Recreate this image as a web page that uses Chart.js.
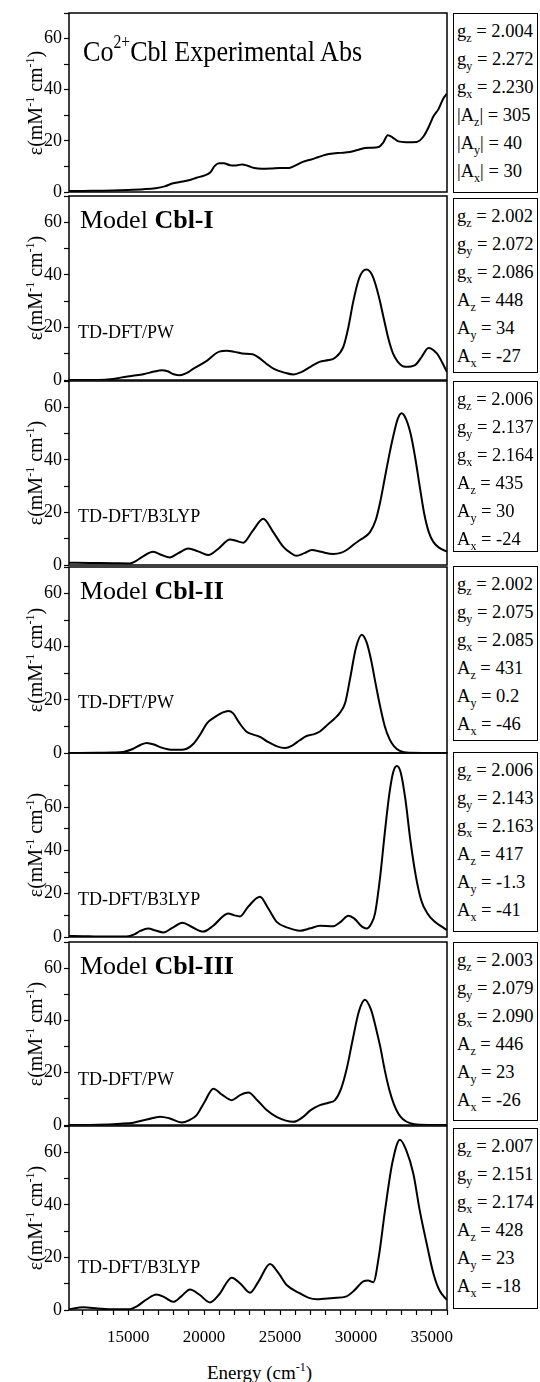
<!DOCTYPE html>
<html>
<head>
<meta charset="utf-8">
<script src="https://cdn.jsdelivr.net/npm/chart.js@4.4.1/dist/chart.umd.min.js"></script>
<style>
  body { margin: 0; background: #fff; }
  #wrap { position: relative; width: 540px; height: 1382px; overflow: hidden; font-family: "Liberation Serif", "Times New Roman", serif; color: #000; }
  canvas { position: absolute; left: 0; }
  .lbl { position: absolute; white-space: nowrap; line-height: 1; }
  .lbl sup { font-size: 60%; vertical-align: 0.7em; line-height: 0; }
  .title { font-size: 30px; transform: scaleX(0.87); transform-origin: 0 0; }
  .model { font-size: 26px; }
  .method { font-size: 18px; }
  .ytitle { position: absolute; width: 140px; height: 22px; line-height: 22px; text-align: center; font-size: 20px; transform: rotate(-90deg); white-space: nowrap; }
  .ytitle sup, .xtitle sup { font-size: 12px; vertical-align: 8px; line-height: 0; }
  .xtitle { position: absolute; font-size: 19px; white-space: nowrap; line-height: 1; }
  .box { position: absolute; left: 453px; width: 85px; border: 1.5px solid #000; box-sizing: border-box; font-size: 18.5px; line-height: 28px; padding: 3px 0 0 3px; white-space: nowrap; background: #fff; }
  .box sub { font-size: 12px; vertical-align: -5px; line-height: 0; }
</style>
</head>
<body>
<div id="wrap"></div>
<script>
// x axis
const xMin = 11100;
const xMax = 36000;
const xTickValues = [12000, 13000, 14000, 15000, 16000, 17000, 18000, 19000, 20000, 21000, 22000, 23000, 24000, 25000, 26000, 27000, 28000, 29000, 30000, 31000, 32000, 33000, 34000, 35000, 36000];
const xTickLabels = [15000, 20000, 25000, 30000, 35000];
const yTickLabels = [0, 20, 40, 60];

// Co2+Cbl experimental absorption
const expEnergy = [11100, 12000, 13000, 14000, 15000, 16000, 16800, 17400, 17900, 18400, 19000, 19500, 20000, 20400, 20700, 21000, 21300, 21700, 22100, 22500, 22900, 23300, 23800, 24400, 25000, 25600, 26000, 26500, 27000, 27500, 28000, 28500, 29000, 29600, 30100, 30600, 31000, 31500, 31800, 32100, 32400, 32800, 33300, 34000, 34450, 34800, 35100, 35450, 35760, 36000];
const expEps = [0.4, 0.4, 0.5, 0.6, 0.8, 1.1, 1.5, 2.2, 3.3, 3.9, 4.6, 5.6, 6.4, 7.6, 10.2, 11.2, 11.2, 10.5, 10.4, 10.8, 10.2, 9.4, 9.1, 9.2, 9.4, 9.4, 10.3, 11.8, 12.6, 13.6, 14.6, 15.1, 15.3, 15.6, 16.4, 17.2, 17.3, 17.6, 19.3, 22.2, 21.4, 19.8, 19.5, 19.6, 21.7, 25.5, 29.5, 32.5, 36.6, 38.5];

// Model Cbl-I
const cbl1PwEnergy = [11100, 13000, 14000, 14500, 15300, 16000, 16700, 17200, 17600, 18000, 18400, 18800, 19300, 20200, 21000, 21500, 22000, 22500, 23200, 23600, 24100, 24600, 25300, 25900, 26400, 27000, 27600, 28200, 28600, 29170, 29500, 29830, 30200, 30450, 30700, 31100, 31500, 31850, 32150, 32450, 32750, 33240, 33900, 34300, 34780, 35330, 35700, 36000];
const cbl1PwEps = [0, 0, 0.4, 0.9, 1.6, 2.2, 3.2, 3.7, 3.3, 2.2, 1.8, 2.5, 4.3, 7.4, 10.8, 11.1, 10.7, 10.1, 9.8, 8.5, 6.2, 4.2, 2.8, 2.1, 3.0, 5.0, 6.9, 7.6, 8.4, 12.6, 20.0, 30.0, 38.5, 41.3, 42.0, 39.5, 32.0, 23.0, 15.5, 10.0, 7.0, 5.0, 5.7, 8.5, 12.2, 10.1, 6.5, 3.0];
const cbl1B3Energy = [11100, 12500, 14000, 15100, 15500, 15900, 16650, 17200, 17750, 18300, 18960, 19600, 20280, 20900, 21710, 22100, 22580, 23200, 23900, 24500, 25220, 25700, 26100, 26600, 27090, 27700, 28510, 29000, 29390, 29900, 30270, 30930, 31300, 31600, 31900, 32200, 32500, 32750, 33010, 33300, 33600, 33900, 34200, 34500, 34800, 35100, 35500, 36000];
const cbl1B3Eps = [0.9, 0.8, 0.7, 0.6, 1.5, 3.0, 5.0, 3.8, 2.9, 4.5, 6.3, 5.2, 3.8, 6.0, 9.7, 9.2, 8.5, 13.0, 17.6, 13.0, 6.9, 4.6, 3.5, 4.5, 5.7, 5.0, 4.2, 4.6, 5.7, 8.0, 9.5, 12.5, 17.0, 24.0, 33.0, 42.0, 50.0, 55.5, 57.7, 55.5, 50.0, 41.0, 30.0, 19.5, 12.5, 8.8, 6.5, 5.1];

// Model Cbl-II
const cbl2PwEnergy = [11100, 13000, 14000, 14680, 15300, 15800, 16220, 16700, 17100, 17600, 18000, 18500, 18850, 19300, 19800, 20170, 20700, 21200, 21600, 21900, 22300, 22800, 23200, 23680, 24200, 24800, 25330, 25800, 26300, 26750, 27200, 27630, 28200, 28600, 28940, 29300, 29610, 30000, 30380, 30700, 31000, 31300, 31600, 31900, 32200, 32500, 32900, 33500, 36000];
const cbl2PwEps = [0, 0.1, 0.2, 0.4, 1.5, 3.0, 3.8, 3.2, 2.2, 1.4, 1.2, 1.2, 1.6, 3.5, 7.5, 11.1, 13.5, 15.2, 15.8, 15.0, 11.5, 8.0, 7.0, 6.1, 4.2, 2.5, 1.9, 2.8, 4.8, 6.4, 7.0, 8.1, 11.0, 13.0, 15.1, 19.0, 27.8, 39.5, 44.5, 41.7, 35.0, 26.0, 17.4, 10.1, 5.4, 2.6, 0.8, 0.1, 0];
const cbl2B3Energy = [11100, 12000, 13000, 14900, 15400, 15800, 16320, 16800, 17310, 17900, 18580, 19200, 19940, 20600, 21580, 22000, 22360, 22900, 23680, 24200, 24780, 25500, 26320, 27000, 27630, 28510, 29000, 29500, 29900, 30400, 30710, 31000, 31260, 31600, 31900, 32200, 32450, 32700, 32950, 33250, 33600, 33950, 34300, 34700, 35200, 35600, 36000];
const cbl2B3Eps = [0.5, 0.4, 0.2, 0.2, 1.2, 2.8, 3.9, 3.0, 2.1, 4.2, 6.6, 4.6, 2.5, 5.2, 10.9, 10.0, 9.5, 14.0, 18.6, 13.5, 7.0, 4.3, 2.9, 4.0, 5.2, 5.0, 7.0, 9.8, 8.5, 4.8, 3.9, 6.0, 10.9, 28.0, 48.0, 66.0, 76.0, 79.0, 76.0, 64.0, 44.0, 28.0, 17.0, 11.0, 7.0, 5.0, 3.2];

// Model Cbl-III
const cbl3PwEnergy = [11100, 13000, 14500, 15340, 16300, 17100, 17700, 18520, 19000, 19510, 20000, 20610, 21200, 21820, 22400, 22920, 23500, 24120, 24800, 25870, 26500, 27000, 27630, 28200, 28620, 29000, 29390, 29800, 30200, 30590, 31000, 31300, 31600, 31900, 32200, 32500, 32800, 33100, 33560, 34200, 36000];
const cbl3PwEps = [0, 0.1, 0.5, 0.9, 2.2, 3.2, 2.6, 1.0, 1.8, 3.8, 8.5, 13.9, 11.5, 9.5, 11.5, 12.4, 9.5, 5.7, 3.0, 1.2, 3.0, 5.6, 7.6, 8.5, 9.5, 13.5, 21.4, 33.0, 43.5, 47.9, 44.0, 37.5, 30.0, 21.0, 13.5, 8.0, 4.3, 2.2, 0.7, 0.1, 0];
const cbl3B3Energy = [11100, 12040, 13000, 14000, 15100, 15600, 16200, 16870, 17400, 17970, 18500, 19070, 19700, 20390, 21000, 21820, 22400, 23020, 23600, 24340, 24900, 25440, 26320, 26900, 27420, 28510, 29390, 29900, 30490, 30800, 31150, 31500, 31920, 32400, 32900, 33300, 33780, 34200, 34660, 35100, 35500, 36000];
const cbl3B3Eps = [0.3, 1.0, 0.6, 0.3, 0.3, 1.5, 4.0, 5.9, 4.8, 3.1, 5.2, 7.8, 5.8, 2.9, 6.0, 12.3, 10.0, 6.6, 11.0, 17.5, 14.0, 9.5, 6.3, 4.6, 4.1, 4.6, 5.2, 7.5, 10.9, 11.2, 10.6, 20.0, 38.0, 56.0, 64.8, 61.0, 51.9, 38.0, 25.3, 14.0, 7.5, 3.8];

// spin Hamiltonian parameters (gz, gy, gx, Az, Ay, Ax)
const paramAxes = ["z", "y", "x"];
const expParams = ["2.004", "2.272", "2.230", "305", "40", "30"];
const cbl1PwParams = ["2.002", "2.072", "2.086", "448", "34", "-27"];
const cbl1B3Params = ["2.006", "2.137", "2.164", "435", "30", "-24"];
const cbl2PwParams = ["2.002", "2.075", "2.085", "431", "0.2", "-46"];
const cbl2B3Params = ["2.006", "2.143", "2.163", "417", "-1.3", "-41"];
const cbl3PwParams = ["2.003", "2.079", "2.090", "446", "23", "-26"];
const cbl3B3Params = ["2.007", "2.151", "2.174", "428", "23", "-18"];

const panels = [
  { top: 13, bottom: 192, yMax: 70, energy: expEnergy, eps: expEps, params: expParams, abs: true, box: [13, 180] },
  { top: 196, bottom: 380, yMax: 70, energy: cbl1PwEnergy, eps: cbl1PwEps, params: cbl1PwParams, box: [198, 175], model: "Cbl-I", method: "TD-DFT/PW", methodY: 338 },
  { top: 381, bottom: 565, yMax: 70, energy: cbl1B3Energy, eps: cbl1B3Eps, params: cbl1B3Params, box: [381, 171], method: "TD-DFT/B3LYP", methodY: 522 },
  { top: 567, bottom: 753, yMax: 70, energy: cbl2PwEnergy, eps: cbl2PwEps, params: cbl2PwParams, box: [566, 175], model: "Cbl-II", method: "TD-DFT/PW", methodY: 708 },
  { top: 753, bottom: 937, yMax: 85, energy: cbl2B3Energy, eps: cbl2B3Eps, params: cbl2B3Params, box: [752, 180], method: "TD-DFT/B3LYP", methodY: 905 },
  { top: 942, bottom: 1125, yMax: 70, energy: cbl3PwEnergy, eps: cbl3PwEps, params: cbl3PwParams, box: [942, 179], model: "Cbl-III", method: "TD-DFT/PW", methodY: 1085 },
  { top: 1126, bottom: 1310, yMax: 70, energy: cbl3B3Energy, eps: cbl3B3Eps, params: cbl3B3Params, box: [1128, 181], method: "TD-DFT/B3LYP", methodY: 1273 }
];

const wrap = document.getElementById("wrap");
const pad = 10;

const framePlugin = {
  id: "frame",
  afterDraw(chart) {
    const { ctx, chartArea: a } = chart;
    ctx.save();
    ctx.strokeStyle = "#000";
    ctx.lineWidth = 1.5;
    ctx.strokeRect(a.left, a.top, a.right - a.left, a.bottom - a.top);
    ctx.restore();
  }
};

function addLabel(html, cls, left, baseline, size) {
  let d = document.createElement("div");
  d.className = "lbl " + cls;
  d.innerHTML = html;
  d.style.left = left + "px";
  d.style.top = (baseline - 0.84 * size) + "px";
  wrap.appendChild(d);
}

panels.forEach((p, i) => {
  let last = i === panels.length - 1;
  let canvas = document.createElement("canvas");
  let h = p.bottom - p.top + pad + (last ? 45 : pad);
  canvas.width = last ? 470 : 450;
  canvas.height = h;
  canvas.style.top = (p.top - pad) + "px";
  wrap.appendChild(canvas);

  new Chart(canvas, {
    type: "line",
    data: {
      datasets: [{
        data: p.energy.map((e, k) => ({ x: e, y: p.eps[k] })),
        borderColor: "#000",
        borderWidth: 2,
        pointRadius: 0,
        cubicInterpolationMode: "monotone",
        fill: false
      }]
    },
    options: {
      responsive: false,
      animation: false,
      devicePixelRatio: 1,
      layout: { padding: { top: pad, bottom: last ? 0 : pad, left: 0, right: last ? 23 : 3 } },
      plugins: { legend: { display: false }, tooltip: { enabled: false } },
      scales: {
        x: {
          type: "linear",
          min: xMin,
          max: xMax,
          display: last,
          border: { display: false },
          grid: { drawOnChartArea: false, tickLength: 5, tickColor: "#000", tickWidth: 1.2 },
          ticks: {
            autoSkip: false,
            maxRotation: 0,
            padding: 12,
            color: "#000",
            font: { family: "Liberation Serif", size: 17 },
            callback: (v) => xTickLabels.includes(Math.round(v)) ? String(Math.round(v)) : ""
          },
          afterBuildTicks: (s) => { s.ticks = xTickValues.map((v) => ({ value: v })); },
          afterFit: (s) => {
            if (last) s.height = 45;
            s.paddingLeft = 0;
            s.paddingRight = 0;
          }
        },
        y: {
          min: 0,
          max: p.yMax,
          border: { display: false },
          grid: { drawOnChartArea: false, tickLength: 5, tickColor: "#000", tickWidth: 1.2 },
          ticks: {
            stepSize: 10,
            padding: 2,
            color: "#000",
            font: { family: "Liberation Serif", size: 18 },
            callback: (v) => yTickLabels.includes(v) ? String(v) : ""
          },
          afterBuildTicks: (s) => { s.ticks = s.ticks.filter((t) => t.value <= 70); },
          afterFit: (s) => {
            s.width = 69;
            s.paddingTop = 0;
            s.paddingBottom = 0;
          }
        }
      }
    },
    plugins: [framePlugin]
  });

  // y axis title
  let yt = document.createElement("div");
  yt.className = "ytitle";
  yt.innerHTML = "&epsilon;(mM<sup>-1</sup> cm<sup>-1</sup>)";
  yt.style.left = (35 - 70) + "px";
  yt.style.top = ((p.top + p.bottom) / 2 - 11) + "px";
  wrap.appendChild(yt);

  // panel labels
  if (p.abs) addLabel("Co<sup>2+</sup>Cbl Experimental Abs", "title", 83, 61, 30);
  if (p.model) addLabel("Model <b>" + p.model + "</b>", "model", 80, p.top + 33, 26);
  if (p.method) addLabel(p.method, "method", 78, p.methodY, 18);

  // parameter box
  let box = document.createElement("div");
  box.className = "box";
  box.style.top = p.box[0] + "px";
  box.style.height = p.box[1] + "px";
  let lines = [];
  paramAxes.forEach((a, k) => lines.push("g<sub>" + a + "</sub> = " + p.params[k]));
  paramAxes.forEach((a, k) => {
    let name = "A<sub>" + a + "</sub>";
    if (p.abs) name = "|" + name + "|";
    lines.push(name + " = " + p.params[k + 3]);
  });
  box.innerHTML = lines.join("<br>");
  wrap.appendChild(box);
});

// x axis title
let xt = document.createElement("div");
xt.className = "xtitle";
xt.innerHTML = "Energy (cm<sup>-1</sup>)";
xt.style.left = "207px";
xt.style.top = "1363px";
wrap.appendChild(xt);
</script>
</body>
</html>
